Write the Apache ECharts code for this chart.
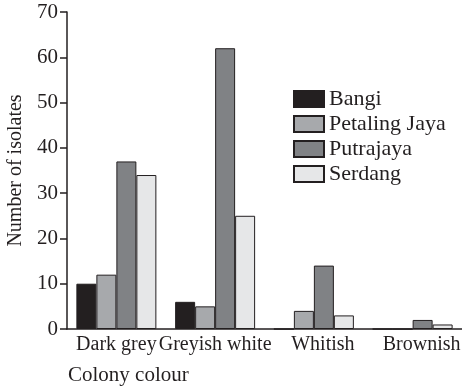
<!DOCTYPE html>
<html><head><meta charset="utf-8">
<script src="https://cdn.jsdelivr.net/npm/echarts@6/dist/echarts.min.js"></script>
<style>html,body{margin:0;padding:0;background:#fff}#c{width:462px;height:390px}</style>
</head><body><div id="c"></div>
<script>
const categories = ['Dark grey', 'Greyish white', 'Whitish', 'Brownish'];
const seriesNames = ['Bangi', 'Petaling Jaya', 'Putrajaya', 'Serdang'];
const bangi = [10, 6, 0, 0];
const petalingJaya = [12, 5, 4, 0];
const putrajaya = [37, 62, 14, 2];
const serdang = [34, 25, 3, 1];
const yTicks = [0, 10, 20, 30, 40, 50, 60, 70];
const colors = ['#231f20', '#a7a9ac', '#808285', '#e6e7e8'];
const values = [bangi, petalingJaya, putrajaya, serdang];
const font = '"Liberation Serif", "Times New Roman", serif';
const chart = echarts.init(document.getElementById('c'));
chart.setOption({
  animation: false,
  grid: {left: 67, right: 0, top: 12, bottom: 61, outerBoundsMode: 'none', containLabel: false},
  title: {text: 'Colony colour', left: 63, top: 360, textStyle: {fontFamily: font, fontSize: 21, fontWeight: 'normal', color: '#231f20'}},
  legend: {
    left: 293, top: 88, padding: 0, orient: 'vertical', itemWidth: 30, itemHeight: 16, itemGap: 3,
    data: seriesNames,
    textStyle: {fontFamily: font, fontSize: 22, color: '#231f20'},
    icon: 'rect'
  },
  xAxis: {
    type: 'category',
    data: categories.map((c, i) => i >= 2 ? {value: c, textStyle: {padding: [0, 0, 0, 18]}} : c),
    axisLine: {lineStyle: {color: '#231f20', width: 1.5}},
    axisTick: {show: false},
    axisLabel: {fontFamily: font, fontSize: 20, color: '#231f20', margin: 6, interval: 0}
  },
  yAxis: {
    type: 'value', min: 0, max: 70, interval: 10,
    name: 'Number of isolates', nameLocation: 'middle', nameGap: 41,
    nameTextStyle: {fontFamily: font, fontSize: 20, color: '#231f20'},
    axisLine: {show: true, lineStyle: {color: '#231f20', width: 1.5}},
    axisTick: {show: true, length: 7, inside: false, lineStyle: {color: '#231f20', width: 1.5}},
    splitLine: {show: false},
    axisLabel: {fontFamily: font, fontSize: 21, color: '#231f20', margin: 9,
      formatter: v => yTicks.includes(v) ? String(v) : ''}
  },
  series: seriesNames.map((n, i) => ({
    name: n, type: 'bar', data: values[i],
    barGap: '0%', barCategoryGap: '19%',
    itemStyle: {color: colors[i], borderColor: '#231f20', borderWidth: 1}
  }))
});
</script></body></html>
